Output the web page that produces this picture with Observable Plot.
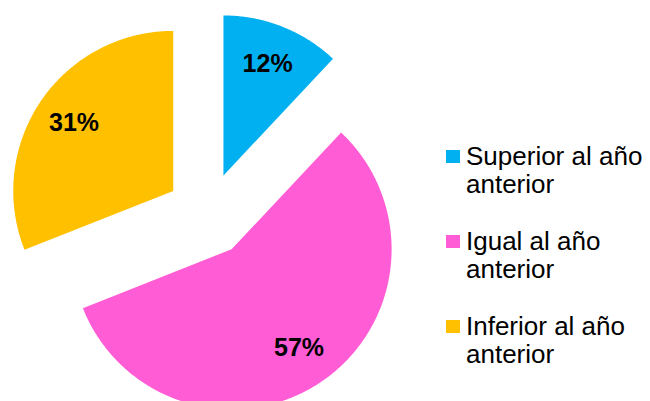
<!DOCTYPE html>
<html><head><meta charset="utf-8">
<script src="https://cdn.jsdelivr.net/npm/d3@7"></script>
<script src="https://cdn.jsdelivr.net/npm/@observablehq/plot@0.6"></script>
<style>
html,body{margin:0;padding:0;background:#fff;font-family:"Liberation Sans",Arial,sans-serif;}
#wrap{position:relative;width:650px;height:401px;overflow:hidden;background:#fff}
#chart{position:absolute;left:0;top:0}
#legend{position:absolute;left:446px;top:142px;}
.item{display:flex;align-items:flex-start;margin-bottom:29px}
.sw{width:14px;height:13px;margin-top:8px;margin-right:6px;flex:none}
.lab{font-size:26px;line-height:28px;width:184px;color:#000}
</style></head><body><div id="wrap"><div id="chart"></div><div id="legend"></div></div>
<script>
const categories = ["Superior al año anterior", "Igual al año anterior", "Inferior al año anterior"];
const values = [12, 57, 31];
const labels = ["12%", "57%", "31%"];
const colors = ["#00B0F0", "#FF5CD6", "#FFC000"];

// layout constants (pixels)
const W = 430, H = 401, cx = 207.5, cy = 214, R = 160;
const explode = 42 / R;
const labelRadius = 0.75;

const arcs = d3.pie().sort(null).value(d => d)(values);
const poly = [];
const lab = [];
arcs.forEach((a, i) => {
  const cat = categories[i];
  const mid = (a.startAngle + a.endAngle) / 2;
  const ox = explode * Math.sin(mid), oy = explode * Math.cos(mid);
  poly.push({cat, x: ox, y: oy});
  const n = Math.ceil((a.endAngle - a.startAngle) / 0.01);
  for (let k = 0; k <= n; k++) {
    const t = a.startAngle + (a.endAngle - a.startAngle) * k / n;
    poly.push({cat, x: ox + Math.sin(t), y: oy + Math.cos(t)});
  }
  poly.push({cat, x: ox, y: oy});
  lab.push({label: labels[i], x: ox + labelRadius * Math.sin(mid), y: oy + labelRadius * Math.cos(mid)});
});

const font = "'Liberation Sans', Arial, sans-serif";
const plot = Plot.plot({
  width: W, height: H, margin: 0,
  style: {fontFamily: font, background: "white"},
  x: {domain: [-cx / R, (W - cx) / R], axis: null},
  y: {domain: [(cy - H) / R, cy / R], axis: null},
  color: {domain: categories, range: colors},
  marks: [
    Plot.line(poly, {x: "x", y: "y", z: "cat", fill: "cat", stroke: "none", curve: "linear", clip: true}),
    Plot.text(lab, {x: "x", y: "y", text: "label", fontSize: 25, fontWeight: "bold", fill: "black", fontFamily: font})
  ]
});
document.getElementById("chart").appendChild(plot);

const color = plot.scale("color");
const legend = document.getElementById("legend");
categories.forEach(c => {
  const item = document.createElement("div");
  item.className = "item";
  const sw = document.createElement("div");
  sw.className = "sw";
  sw.style.background = colors[color.domain.indexOf(c)];
  const t = document.createElement("div");
  t.className = "lab";
  t.textContent = c;
  item.appendChild(sw); item.appendChild(t);
  legend.appendChild(item);
});
</script>
</body></html>
